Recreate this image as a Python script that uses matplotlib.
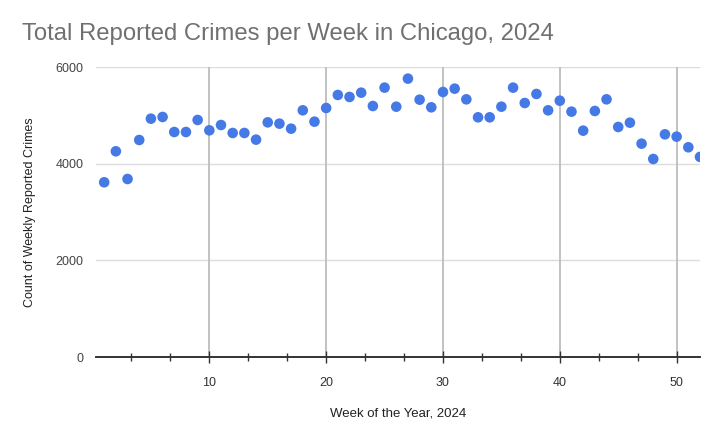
import matplotlib
matplotlib.use("Agg")
import matplotlib.pyplot as plt
import numpy as np

# DATA
weeks = list(range(1, 53))
crimes = [3615, 4256, 3683, 4490, 4931, 4966, 4655, 4655, 4904, 4690,
          4800, 4635, 4635, 4497, 4855, 4828, 4724, 5104, 4869, 5152,
          5421, 5380, 5469, 5193, 5573, 5179, 5759, 5324, 5166, 5483,
          5552, 5331, 4959, 4959, 5179, 5573, 5255, 5442, 5104, 5303,
          5076, 4683, 5090, 5331, 4759, 4848, 4414, 4097, 4607, 4559,
          4339, 4140]
x_major = [10, 20, 30, 40, 50]
y_major = [0, 2000, 4000, 6000]

plt.rcParams['font.family'] = ['Liberation Sans', 'DejaVu Sans']

fig = plt.figure(figsize=(7.2, 4.45), dpi=100)
ax = fig.add_axes([96 / 720, 1 - 357 / 445, (700 - 96) / 720, (357 - 67) / 445])

# gridlines
for yv in y_major[1:]:
    ax.axhline(yv, color='#dcdcdc', lw=1.0, zorder=1)
for xv in x_major:
    ax.axvline(xv, color='#bdbdbd', lw=1.3, zorder=1)

ax.scatter(weeks, crimes, s=58, color='#4479e6', edgecolors='none', zorder=3)

ax.set_xlim(0.3, 52)
ax.set_ylim(0, 6000)

ax.set_xticks(x_major)
ax.set_xticks([v / 3 * 10 for v in range(1, 16) if v % 3 != 0], minor=True)
ax.set_yticks(y_major)
ax.tick_params(axis='x', which='major', direction='inout', length=9, width=1,
               color='#333333', pad=10, labelsize=9, labelcolor='#333333')
ax.tick_params(axis='x', which='minor', direction='inout', length=6, width=1,
               color='#333333')
ax.tick_params(axis='y', length=0, pad=9, labelsize=9, labelcolor='#444444')

for side in ['top', 'right', 'left']:
    ax.spines[side].set_visible(False)
ax.spines['bottom'].set_color('#333333')
ax.spines['bottom'].set_linewidth(1.4)
ax.spines['bottom'].set_zorder(4)

ax.set_xlabel("Week of the Year, 2024", fontsize=9.5, color='#222222', labelpad=13)
ax.set_ylabel("Count of Weekly Reported Crimes", fontsize=9, color='#222222', labelpad=14)

fig.text(22 / 720, 1 - 40 / 445, "Total Reported Crimes per Week in Chicago, 2024",
         fontsize=17.2, color='#707070', va='baseline', ha='left')

fig.savefig("out.png", dpi=100)
